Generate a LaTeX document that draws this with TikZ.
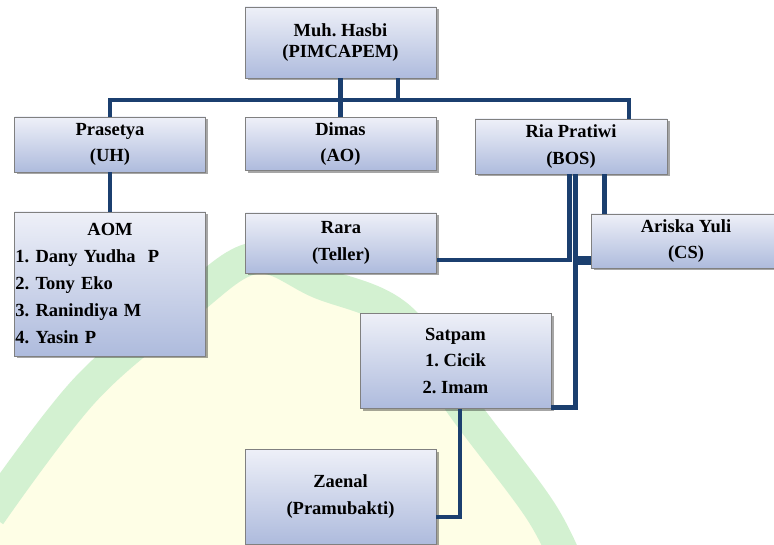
\documentclass[tikz,border=0pt]{standalone}
\usepackage{fontspec}
\setmainfont{Liberation Serif}
\usetikzlibrary{shadows}
\definecolor{boxtop}{HTML}{EEF0F8}
\definecolor{boxbot}{HTML}{AEBBDD}
\definecolor{boxline}{HTML}{808080}
\definecolor{navy}{HTML}{1B3F6F}
\definecolor{wmgreen}{HTML}{D3F1D1}
\definecolor{wmyellow}{HTML}{FEFEE6}
\begin{document}
\frenchspacing
\begin{tikzpicture}[x=1pt,y=-1pt,
  box/.style={draw=boxline, line width=0.7pt, top color=boxtop, bottom color=boxbot,
    drop shadow={shadow xshift=2.5pt, shadow yshift=-2.5pt, opacity=0.35, fill=black},
    inner sep=0pt, align=center, minimum width=191pt,
    font=\fontsize{18.5}{26.5}\selectfont\bfseries},
  conn/.style={draw=navy, line width=4.5pt, line join=miter}]
\useasboundingbox (0,0) rectangle (774,545);
\fill[white] (0,0) rectangle (774,545);
% faint watermark
\fill[wmyellow] plot[smooth, tension=0.6] coordinates {(-10,515) (85,390) (185,305) (255,258) (320,283) (400,318) (465,410) (540,510) (570,570)} -- (-10,570) -- cycle;
\draw[wmgreen, line width=32pt] plot[smooth, tension=0.6] coordinates {(-10,515) (85,390) (185,305) (255,258) (320,283) (400,318) (465,410) (540,510) (570,570)};
% boxes
\node[box, minimum height=71pt, font=\fontsize{18.5}{21}\selectfont\bfseries] (hasbi) at (340.5,42.5) {Muh. Hasbi\\(PIMCAPEM)};
\node[box, minimum height=55pt] (prasetya) at (110,144.5) {Prasetya\\(UH)};
\node[box, minimum height=53pt] (dimas) at (340.5,144) {Dimas\\(AO)};
\node[box, minimum height=55pt, minimum width=192pt] (ria) at (571,146.5) {Ria Pratiwi\\(BOS)};
\node[box, minimum height=144pt, text width=189pt, align=left, font=\fontsize{18.5}{27}\selectfont\bfseries] (aom) at (110,284) {\makebox[189pt]{AOM}\\1. Dany Yudha\ \ P\\2. Tony Eko\\3. Ranindiya M\\4. Yasin P};
\node[box, minimum height=60pt] (rara) at (341,243) {Rara\\(Teller)};
\node[box, minimum height=54pt, minimum width=190pt, font=\fontsize{18.5}{25.5}\selectfont\bfseries] (ariska) at (686,241) {Ariska Yuli\\(CS)};
\node[box, minimum height=95pt] (satpam) at (455.5,361) {Satpam\\1. Cicik\\2. Imam};
\node[box, minimum height=95pt] (zaenal) at (340.5,496.5) {Zaenal\\(Pramubakti)};
% connectors
\coordinate (bus) at (629,100);
\coordinate (h2) at (398,100);
\draw[conn] (prasetya.north) |- (bus) -- (bus |- ria.north);
\draw[conn] (hasbi.south) -- (dimas.north);
\draw[conn] (h2 |- hasbi.south) -- (h2);
\draw[conn] (prasetya.south) -- (aom.north);
\coordinate (ra) at (569.5,260);
\coordinate (rb) at (575.5,407.5);
\coordinate (rc) at (604.5,200);
\draw[conn] (ra |- ria.south) -- (ra) -- (rara.east |- ra);
\draw[conn] (rb |- ria.south) -- (rb) -- (satpam.east |- rb);
\draw[conn] (rc |- ria.south) -- (rc |- ariska.north);
\coordinate (ak) at (575,260.5);
\draw[conn, line width=9pt] (ak) -- (ariska.west |- ak);
\coordinate (sz) at (460,517);
\draw[conn] (sz |- satpam.south) -- (sz) -- (zaenal.east |- sz);
\end{tikzpicture}
\end{document}
